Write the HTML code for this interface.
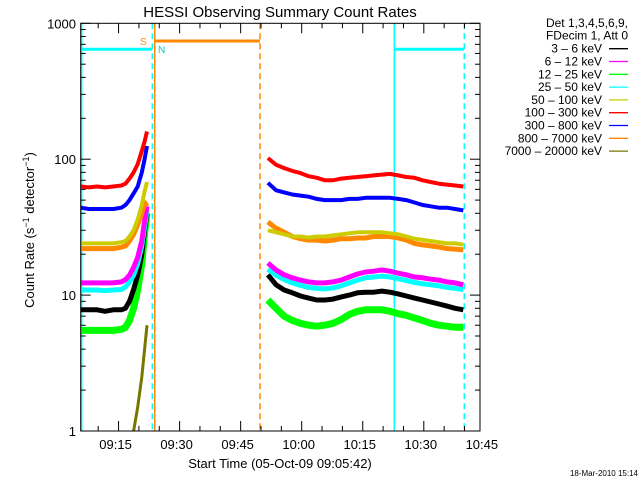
<!DOCTYPE html>
<html><head><meta charset="utf-8"><style>
body{margin:0;background:#fff}
svg{display:block;font-family:"Liberation Sans","DejaVu Sans",sans-serif}
</style></head><body>
<svg id="c" width="640" height="480" viewBox="0 0 640 480">
<g id="marks"></g>
<g id="axes"></g>
<text x="280" y="17" font-size="15" text-anchor="middle">HESSI Observing Summary Count Rates</text>
<text x="280" y="468" font-size="13" text-anchor="middle">Start Time (05-Oct-09 09:05:42)</text>
<text transform="translate(34,230) rotate(-90)" font-size="13" text-anchor="middle">Count Rate (s<tspan dy="-5" font-size="9">−1</tspan><tspan dy="5"> detector</tspan><tspan dy="-5" font-size="9">−1</tspan><tspan dy="5">)</tspan></text>
<text x="638" y="476" font-size="8" text-anchor="end">18-Mar-2010 15:14</text>
<g id="legend"></g>
</svg>
<script>
const preTimes=[0,2,4,6,8,10,11,12,13,14,15,15.7,16.3];
const postTimes=[46,48,50,52,54,56,58,60,62,64,66,68,70,72,74,76,78,80,82,84,86,88,90,92,94];
const bandLabels=["3 - 6 keV","6 - 12 keV","12 - 25 keV","25 - 50 keV","50 - 100 keV","100 - 300 keV","300 - 800 keV","800 - 7000 keV","7000 - 20000 keV"];
const bandColors=["#000","#f0f","#0f0","#0ff","#cc0","#f00","#00f","#f80","#770"];
const pre3_6=[7.8,7.8,7.8,7.6,7.8,7.8,8,9,11,14,20,30,40];
const post3_6=[14.1,11.9,10.9,10.4,9.85,9.5,9.2,9.2,9.35,9.7,10,10.4,10.5,10.5,10.7,10.5,10.2,9.85,9.5,9.2,8.9,8.6,8.3,8,7.8];
const pre6_12=[12.3,12.3,12.3,12.3,12.3,12.5,13,14,16,19,25,35,45];
const post6_12=[17.2,15.3,14.1,13.4,12.9,12.5,12.3,12.3,12.5,12.9,13.6,14.3,14.8,15,15.3,15,14.5,14.1,13.6,13.4,13.1,12.9,12.5,12.3,11.9];
const pre12_25=[5.5,5.5,5.5,5.5,5.5,5.6,5.8,6.5,8,11,17,28,40];
const post12_25=[9.2,8,7,6.5,6.2,6,5.9,6,6.2,6.6,7.2,7.6,7.8,7.8,7.8,7.6,7.3,7.1,6.8,6.5,6.2,6,5.9,5.8,5.8];
const pre25_50=[10.9,10.9,10.9,10.8,10.9,11,11.5,12.5,14,17,23,32,42];
const post25_50=[15.5,14,13,12.3,11.8,11.4,11.2,11.1,11.3,11.7,12.3,12.9,13.4,13.6,13.8,13.6,13.2,12.8,12.4,12.1,11.9,11.7,11.4,11.2,11];
const pre50_100=[24,24,24,24,24,24.5,25,27,30,36,46,58,68];
const post50_100=[30,29,28,27,27,26.5,27,27,27.5,28,28.5,29,29,29,29,28.5,28,27,26,25.5,25,24.5,24,24,23.5];
const pre100_300=[63,62,63,62,63,64,66,72,80,92,115,135,160];
const post100_300=[102,91,86,82,79,75,73,70,70,72,73,74,75,76,77,78,76,74,73,70,68,66,65,64,63];
const pre300_800=[44,43,43,43,43,44,46,50,56,63,80,100,125];
const post300_800=[67,59,57,55,54,53,51,50,50,50,51,51,52,52,52,52,51,50,48,46,45,44,44,43,42];
const pre800_7000=[22,22,22,22,22,22.5,23,25,28,33,40,48,45];
const post800_7000=[34.5,31,29,27,26,25.4,25.4,25,25.4,26,26,26.3,26.3,27,27,27,26.3,25.4,24,23.4,23,22.6,22,21.8,21.5];
const oliveTimes=[13,14,15,15.7,16.3];
const oliveValues=[1,1.5,2.5,4,6];
const xTickLabels=["09:15","09:30","09:45","10:00","10:15","10:30","10:45"];
const xTickMinutes=[9.3,24.3,39.3,54.3,69.3,84.3,99.3];
const yTickValues=[1,10,100,1000];

const X0=80.7,X1=480,Y0=431,YT=23.3,PXMIN=4.07,DEC=(431-23.3)/3;
const xs=t=>X0+t*PXMIN;
const ys=v=>Y0-Math.log10(v)*DEC;
const NS="http://www.w3.org/2000/svg";
const marks=document.getElementById('marks'),axes=document.getElementById('axes'),leg=document.getElementById('legend');
function mk(tag,attrs,parent){const e=document.createElementNS(NS,tag);for(const k in attrs)e.setAttribute(k,attrs[k]);parent.appendChild(e);return e;}
function poly(times,vals,color,w,name){
  const pts=times.map((t,i)=>xs(t).toFixed(1)+','+ys(vals[i]).toFixed(1)).join(' ');
  const p=mk('polyline',{points:pts,fill:'none',stroke:color,'stroke-width':w,'stroke-linejoin':'round'},marks);
  
  
}
function vline(x,color,dash,name){const l=mk('line',{x1:x,x2:x,y1:YT,y2:Y0,stroke:color,'stroke-width':1.5,'stroke-dasharray':dash},marks);

}
vline(X0+1,'#0ff','', 'saa-start-line');
vline(152.3,'#0ff','6,4','saa-end-line');
vline(154.7,'#f80','','night-start-line');
vline(260,'#f80','6,4','night-end-line');
vline(394.3,'#0ff','','saa-start-line-2');
vline(464.3,'#0ff','6,4','saa-end-line-2');
function hline(x1,x2,y,color,name){const l=mk('line',{x1:x1,x2:x2,y1:y,y2:y,stroke:color,'stroke-width':3},marks);

}
hline(81,152,49.3,'#0ff','saa-bar-1');
hline(155,260,41,'#f80','night-bar');
hline(394,464,49.3,'#0ff','saa-bar-2');
const tS=mk('text',{x:140,y:45,'font-size':10,fill:'#f80'},marks);tS.textContent='S';


const tN=mk('text',{x:158,y:53,'font-size':10,fill:'#0cc'},marks);tN.textContent='N';



poly(oliveTimes,oliveValues,'#770',3,'series-7000-20000-kev');
const series=[
 [pre12_25,post12_25,2,7,'series-12-25-kev'],
 [pre3_6,post3_6,0,5,'series-3-6-kev'],
 [pre25_50,post25_50,3,5,'series-25-50-kev'],
 [pre6_12,post6_12,1,5,'series-6-12-kev'],
 [pre800_7000,post800_7000,7,5,'series-800-7000-kev'],
 [pre50_100,post50_100,4,4,'series-50-100-kev'],
 [pre300_800,post300_800,6,4,'series-300-800-kev'],
 [pre100_300,post100_300,5,4,'series-100-300-kev']];
series.forEach(s=>{poly(preTimes,s[0],bandColors[s[2]],s[3],s[4]+'-pre');poly(postTimes,s[1],bandColors[s[2]],s[3],s[4]+'-post');});

const fr=mk('rect',{x:X0,y:YT,width:X1-X0,height:Y0-YT,fill:'none',stroke:'#000','stroke-width':1},axes);


for(let m=xTickMinutes[0]-5;m<=98.3;m+=5){
  const x=xs(m);const major=xTickMinutes.some(v=>Math.abs(v-m)<0.01);const L=major?10:5;
  if(x<X0)continue;
  mk('line',{x1:x,x2:x,y1:Y0,y2:Y0-L,stroke:'#000'},axes);
  mk('line',{x1:x,x2:x,y1:YT,y2:YT+L,stroke:'#000'},axes);
}
xTickMinutes.forEach((m,i)=>{const t=mk('text',{x:xs(m)-3,y:449,'font-size':13,'text-anchor':'middle'},axes);t.textContent=xTickLabels[i];

});
yTickValues.forEach((v,i)=>{const y=ys(v);
  mk('line',{x1:X0,x2:X0+10,y1:y,y2:y,stroke:'#000'},axes);mk('line',{x1:X1-10,x2:X1,y1:y,y2:y,stroke:'#000'},axes);
  const t=mk('text',{x:76,y:y+5,'font-size':13,'text-anchor':'end'},axes);t.textContent=String(v);
  
  
  if(i<3)for(let k=2;k<10;k++){const yy=ys(v*k);mk('line',{x1:X0,x2:X0+5,y1:yy,y2:yy,stroke:'#000'},axes);mk('line',{x1:X1-5,x2:X1,y1:yy,y2:yy,stroke:'#000'},axes);}
});
const hd=["Det 1,3,4,5,6,9,","FDecim 1, Att 0"];
hd.forEach((s,i)=>{const t=mk('text',{x:628,y:27+i*12.5,'font-size':12,'text-anchor':'end'},leg);t.textContent=s;

});
bandLabels.forEach((s,i)=>{const y=48.7+i*12.8;
  const t=mk('text',{x:602,y:y+4,'font-size':12,'text-anchor':'end'},leg);t.textContent=s.replace(/-/g,'–');
  
  
  mk('line',{x1:609,x2:628,y1:y,y2:y,stroke:bandColors[i],'stroke-width':1.3},leg);});
</script>
</body></html>
